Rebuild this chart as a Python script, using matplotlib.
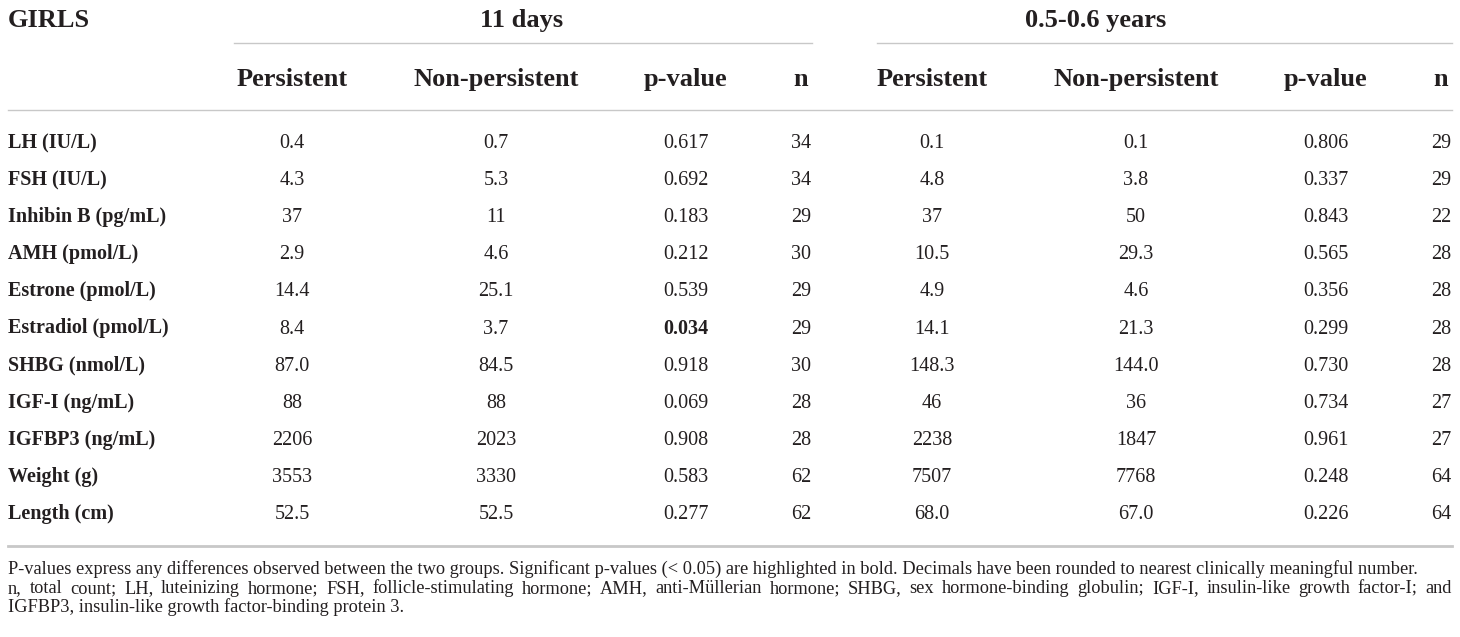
import matplotlib
matplotlib.use("Agg")
import matplotlib.pyplot as plt
from matplotlib.lines import Line2D

plt.rcParams['font.family'] = ['Liberation Serif', 'DejaVu Serif']

# table contents
row_labels = ["LH (IU/L)", "FSH (IU/L)", "Inhibin B (pg/mL)", "AMH (pmol/L)",
              "Estrone (pmol/L)", "Estradiol (pmol/L)", "SHBG (nmol/L)",
              "IGF-I (ng/mL)", "IGFBP3 (ng/mL)", "Weight (g)", "Length (cm)"]
col_headers = ["Persistent", "Non-persistent", "p-value", "n"]
groups = ["11 days", "0.5-0.6 years"]

pers_11d = ["0.4", "4.3", "37", "2.9", "14.4", "8.4", "87.0", "88", "2206", "3553", "52.5"]
nonpers_11d = ["0.7", "5.3", "11", "4.6", "25.1", "3.7", "84.5", "88", "2023", "3330", "52.5"]
p_11d = ["0.617", "0.692", "0.183", "0.212", "0.539", "0.034", "0.918", "0.069", "0.908", "0.583", "0.277"]
n_11d = ["34", "34", "29", "30", "29", "29", "30", "28", "28", "62", "62"]

pers_6m = ["0.1", "4.8", "37", "10.5", "4.9", "14.1", "148.3", "46", "2238", "7507", "68.0"]
nonpers_6m = ["0.1", "3.8", "50", "29.3", "4.6", "21.3", "144.0", "36", "1847", "7768", "67.0"]
p_6m = ["0.806", "0.337", "0.843", "0.565", "0.356", "0.299", "0.730", "0.734", "0.961", "0.248", "0.226"]
n_6m = ["29", "29", "22", "28", "28", "28", "28", "27", "27", "64", "64"]

# significant p-values shown in bold: (column index, row index)
bold_cells = [(2, 5)]

# (text, justified to full width?)
footnotes = [
    ("P-values express any differences observed between the two groups. Significant p-values (< 0.05) "
     "are highlighted in bold. Decimals have been rounded to nearest clinically meaningful number.", False),
    ("n, total count; LH, luteinizing hormone; FSH, follicle-stimulating hormone; AMH, anti-M\u00fcllerian "
     "hormone; SHBG, sex hormone-binding globulin; IGF-I, insulin-like growth factor-I; and", True),
    ("IGFBP3, insulin-like growth factor-binding protein 3.", False),
]

W, H = 1460, 637
fig = plt.figure(figsize=(W / 100, H / 100), dpi=100)
fig.patch.set_facecolor("white")

txt_color = "#231f20"
line_color = "#c8c8c8"


def put(x, y, s, **kw):
    # y is the text baseline in pixels from the top
    return fig.text(x / W, 1 - y / H, s, color=txt_color, va="baseline", **kw)


def hline(x0, x1, y, lw=1.0):
    fig.add_artist(Line2D([x0 / W, x1 / W], [1 - y / H, 1 - y / H],
                          color=line_color, lw=lw, transform=fig.transFigure))


def put_justified(x0, x1, y, s, **kw):
    words = s.split(" ")
    renderer = fig.canvas.get_renderer()
    objs = [put(x0, y, w, ha="left", **kw) for w in words]
    widths = [o.get_window_extent(renderer).width for o in objs]
    gap = (x1 - x0 - sum(widths)) / (len(words) - 1)
    x = x0
    for o, w in zip(objs, widths):
        o.set_x(x / W)
        x += w + gap


columns = [pers_11d, nonpers_11d, p_11d, n_11d, pers_6m, nonpers_6m, p_6m, n_6m]
col_x = [292, 496, 686, 801, 932, 1136, 1326, 1441]

# header
put(8, 27, "GIRLS", fontsize=19, fontweight="bold", ha="left")
put(522, 27, groups[0], fontsize=19, fontweight="bold", ha="center")
put(1096, 27, groups[1], fontsize=19, fontweight="bold", ha="center")
hline(234, 812, 43, lw=1.0)
hline(877, 1452, 43, lw=1.0)
for i, x in enumerate(col_x):
    put(x, 86, col_headers[i % 4], fontsize=19, fontweight="bold", ha="center")
hline(8, 1452, 110, lw=1.0)

# body
row_y0, row_step = 148, 37.1
for r, label in enumerate(row_labels):
    y = row_y0 + r * row_step
    put(8, y, label, fontsize=14.5, fontweight="bold", ha="left")
    for c, col in enumerate(columns):
        weight = "bold" if (c, r) in bold_cells else "normal"
        put(col_x[c], y, col[r], fontsize=14.5, fontweight=weight, ha="center")

hline(8, 1452, 546, lw=2.0)

# notes
for i, (note, justify) in enumerate(footnotes):
    y = 574 + i * 19.2
    if justify:
        put_justified(8, 1452, y, note, fontsize=13.2)
    else:
        put(8, y, note, fontsize=13.2, ha="left")

fig.savefig("out.png", dpi=100, facecolor="white")
